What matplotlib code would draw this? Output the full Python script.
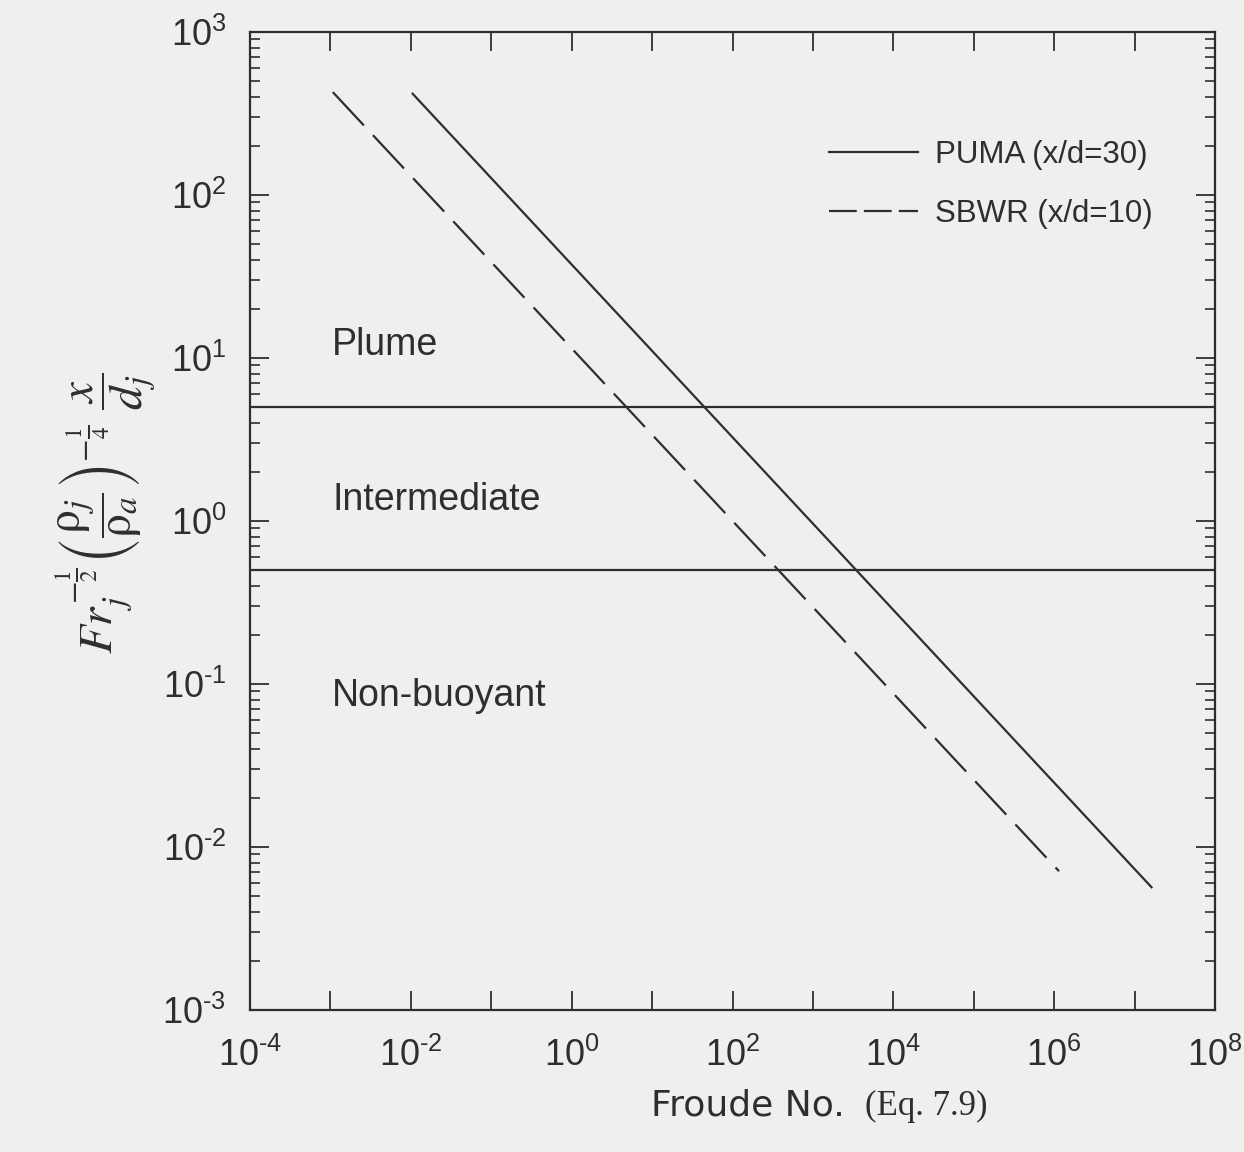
import numpy as np
import matplotlib
matplotlib.use("Agg")
import matplotlib.pyplot as plt
from matplotlib.ticker import FixedLocator, LogLocator, NullFormatter, NullLocator
from matplotlib.lines import Line2D

# ---- data ----
fr_puma = [1.03e-2, 1.66e7]
val_puma = [423.0, 5.6e-3]
fr_sbwr = [1.07e-3, 1.15e6]
val_sbwr = [428.0, 7.1e-3]
boundaries = [5.0, 0.5]
region_names = ["Plume", "Intermediate", "Non-buoyant"]
region_y = [12.0, 1.35, 0.085]
series_names = ["PUMA (x/d=30)", "SBWR (x/d=10)"]
xtick_exp = list(range(-4, 9))
ytick_exp = list(range(-3, 4))


def sup_label(e):
    if e < 0:
        return r"$10^{\text{-}%d}$" % (-e)
    return r"$10^{%d}$" % e


xtick_labels = [sup_label(e) if e % 2 == 0 else "" for e in xtick_exp]
ytick_labels = [sup_label(e) for e in ytick_exp]

plt.rcParams["font.family"] = ["Liberation Sans", "DejaVu Sans"]
plt.rcParams["mathtext.fontset"] = "custom"
plt.rcParams["mathtext.rm"] = "Liberation Sans"
plt.rcParams["mathtext.it"] = "Liberation Sans:italic"
plt.rcParams["axes.unicode_minus"] = False

ink = "#2e2e2e"
bg = "#efefef"

fig = plt.figure(figsize=(12.44, 11.52), dpi=100, facecolor=bg)
ax = fig.add_axes([250 / 1244, 1 - 1010 / 1152, 965 / 1244, 978 / 1152])
ax.set_facecolor(bg)
ax.set_xscale("log")
ax.set_yscale("log")
ax.set_xlim(1e-4, 1e8)
ax.set_ylim(1e-3, 1e3)

ax.plot(fr_puma, val_puma, color=ink, lw=1.6, solid_capstyle="butt")
ax.plot(fr_sbwr, val_sbwr, color=ink, lw=1.6, dashes=(20.5, 6.0))
for b in boundaries:
    ax.axhline(b, color=ink, lw=1.6)

for name, yv in zip(region_names, region_y):
    ax.text(1.05e-3, yv, name, fontsize=27, color=ink, ha="left", va="center")

handles = [Line2D([], [], color=ink, lw=1.6),
           Line2D([], [], color=ink, lw=1.6, dashes=(12.5, 3.2))]
ax.legend(handles, series_names, loc="upper left", bbox_to_anchor=(0.600, 0.890),
          frameon=False, fontsize=22.5, handlelength=2.85, handletextpad=0.55,
          labelspacing=0.95, borderpad=0, borderaxespad=0, labelcolor=ink)

# ticks
ax.xaxis.set_major_locator(FixedLocator([10.0 ** e for e in xtick_exp]))
ax.xaxis.set_minor_locator(NullLocator())
ax.set_xticklabels(xtick_labels)
ax.yaxis.set_major_locator(FixedLocator([10.0 ** e for e in ytick_exp]))
ax.yaxis.set_minor_locator(LogLocator(base=10, subs=np.arange(2, 10), numticks=20))
ax.yaxis.set_minor_formatter(NullFormatter())
ax.set_yticklabels(ytick_labels)

ax.tick_params(which="major", direction="in", length=14, width=1.3, color=ink,
               top=True, right=True, labelsize=26, labelcolor=ink)
ax.tick_params(axis="x", which="major", pad=20)
ax.tick_params(axis="y", which="major", pad=17)
ax.tick_params(which="minor", direction="in", length=7.5, width=1.2, color=ink,
               right=True)
for s in ax.spines.values():
    s.set_linewidth(1.6)
    s.set_color(ink)

# y label
fig.text(106 / 1244, 1 - 513 / 1152,
         r"$Fr_j^{-\frac{1}{2}}\left(\dfrac{\mathrm{\rho}_j}{\mathrm{\rho}_a}\right)^{-\frac{1}{4}}\ \dfrac{x}{d_j}$",
         rotation=90, ha="center", va="center", fontsize=34, color=ink,
         math_fontfamily="stix")

# x label (sans part + serif part)
fig.text(748 / 1244, 1 - 1115 / 1152, "Froude No.", fontsize=26, color=ink,
         ha="center", va="baseline", family=["DejaVu Sans"])
fig.text(926 / 1244, 1 - 1115 / 1152, "(Eq. 7.9)", fontsize=25, color=ink,
         ha="center", va="baseline", family=["Liberation Serif", "DejaVu Serif"])

fig.savefig("out.png", dpi=100, facecolor=bg)
